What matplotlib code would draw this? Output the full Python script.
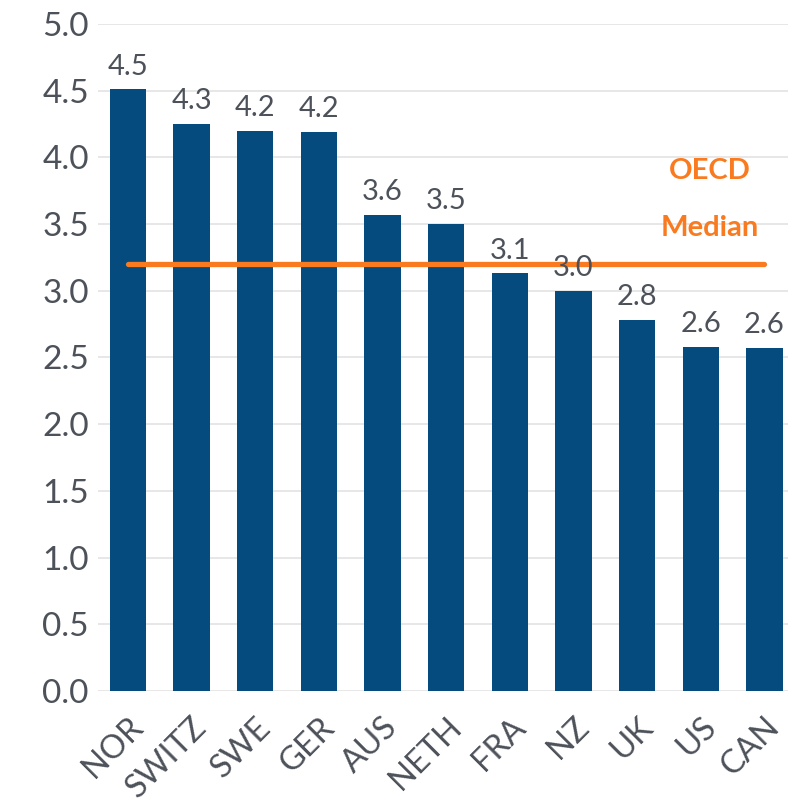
import matplotlib.pyplot as plt

# data
paises = ["NOR", "SWITZ", "SWE", "GER", "AUS", "NETH", "FRA", "NZ", "UK", "US", "CAN"]
valores = [4.51, 4.25, 4.20, 4.19, 3.57, 3.50, 3.13, 3.00, 2.78, 2.58, 2.57]
rotulos = ["4.5", "4.3", "4.2", "4.2", "3.6", "3.5", "3.1", "3.0", "2.8", "2.6", "2.6"]
mediana_oecd = 3.2
yticks = [0.0, 0.5, 1.0, 1.5, 2.0, 2.5, 3.0, 3.5, 4.0, 4.5, 5.0]

cor_barra = "#054B7D"
cor_laranja = "#F97A1F"
cor_texto = "#4D525A"

plt.rcParams["font.family"] = ["Lato", "DejaVu Sans"]

fig = plt.figure(figsize=(7.88, 8.08), dpi=100)
ax = fig.add_axes([0.1244, 0.1448, 0.8756, 0.8255])

x = list(range(len(paises)))
ax.bar(x, valores, width=0.57, color=cor_barra, zorder=2)

for xi, v, r in zip(x, valores, rotulos):
    ax.annotate(r, (xi, v), xytext=(0, 7), textcoords="offset points",
                ha="center", va="bottom", fontsize=21, color=cor_texto, zorder=4)

ax.plot([x[0], x[-1]], [mediana_oecd, mediana_oecd], color=cor_laranja,
        lw=3.8, solid_capstyle="round", zorder=3)
ax.text(9.14, 3.9, "OECD", color=cor_laranja, fontsize=21, fontweight="bold",
        ha="center", va="center")
ax.text(9.14, 3.47, "Median", color=cor_laranja, fontsize=21, fontweight="bold",
        ha="center", va="center")

ax.set_ylim(0, 5.0)
ax.set_xlim(-0.47, 10.37)
ax.set_yticks(yticks)
ax.set_yticklabels([f"{t:.1f}" for t in yticks])
ax.set_xticks(x)
ax.set_xticklabels(paises, rotation=45, ha="right", rotation_mode="anchor")
ax.tick_params(axis="both", length=0, colors=cor_texto)
ax.tick_params(axis="y", labelsize=24, pad=40)
ax.tick_params(axis="x", labelsize=23.5, pad=15)
for lab in ax.get_yticklabels():
    lab.set_horizontalalignment("left")
ax.grid(axis="y", color="#E3E3E3", lw=1.2, zorder=0)
ax.set_axisbelow(True)
for s in ax.spines.values():
    s.set_visible(False)

fig.savefig("out.png", dpi=100)
